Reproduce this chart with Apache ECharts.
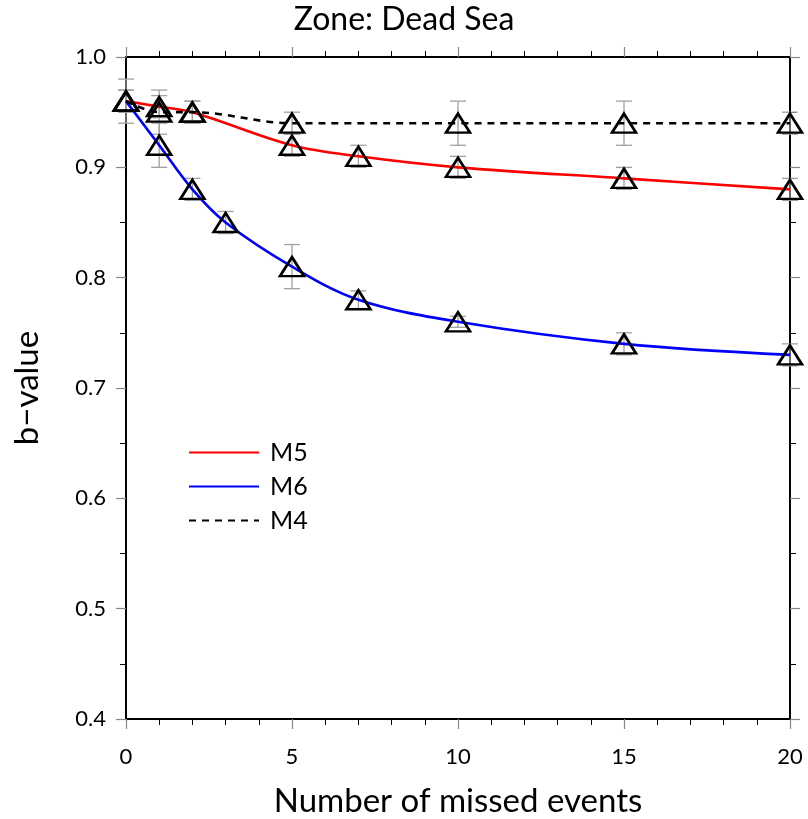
<!DOCTYPE html>
<html><head><meta charset="utf-8">
<script src="https://cdn.jsdelivr.net/npm/echarts@6/dist/echarts.min.js"></script>
<style>html,body{margin:0;padding:0;background:#fff}#c{width:808px;height:819px}</style>
</head><body><div id="c"></div>
<script>
// ---- data ----
const xM5 = [0, 1, 2, 5, 7, 10, 15, 20];
const yM5 = [0.96, 0.955, 0.95, 0.92, 0.91, 0.90, 0.89, 0.88];
const eM5 = [0.01, 0.01, 0.01, 0.01, 0.01, 0.01, 0.01, 0.01];
const xM6 = [0, 1, 2, 3, 5, 7, 10, 15, 20];
const yM6 = [0.96, 0.92, 0.88, 0.85, 0.81, 0.78, 0.76, 0.74, 0.73];
const eM6 = [0.01, 0.02, 0.01, 0.01, 0.02, 0.008, 0.005, 0.01, 0.01];
const xM4 = [0, 1, 2, 5, 10, 15, 20];
const yM4 = [0.96, 0.95, 0.95, 0.94, 0.94, 0.94, 0.94];
const eM4 = [0.02, 0.02, 0.01, 0.01, 0.02, 0.02, 0.01];
const titleText = 'Zone: Dead Sea';
const xName = 'Number of missed events';
const yName = 'b\u2212value';

const FONT = 'Lato';
const chart = echarts.init(document.getElementById('c'), null, {renderer: 'canvas'});

function pairs(xs, ys) { return xs.map((x, i) => [x, ys[i]]); }
function errData(xs, ys, es) { return xs.map((x, i) => [x, ys[i] - es[i], ys[i] + es[i]]); }

function errSeries(xs, ys, es) {
  return {
    type: 'custom', silent: true, z: 1,
    data: errData(xs, ys, es),
    renderItem: function (params, api) {
      const lo = api.coord([api.value(0), api.value(1)]);
      const hi = api.coord([api.value(0), api.value(2)]);
      const w = 8;
      const st = {stroke: '#a0a0a0', lineWidth: 1.3, fill: null};
      return {type: 'group', children: [
        {type: 'line', shape: {x1: lo[0], y1: lo[1], x2: hi[0], y2: hi[1]}, style: st},
        {type: 'line', shape: {x1: lo[0]-w, y1: lo[1], x2: lo[0]+w, y2: lo[1]}, style: st},
        {type: 'line', shape: {x1: hi[0]-w, y1: hi[1], x2: hi[0]+w, y2: hi[1]}, style: st}
      ]};
    },
    encode: {x: 0, y: [1, 2]}
  };
}
function markSeries(xs, ys) {
  return {
    type: 'scatter', z: 5, silent: true,
    data: pairs(xs, ys),
    symbol: 'triangle', symbolSize: [24, 19],
    itemStyle: {color: 'rgba(255,255,255,0)', borderColor: '#000', borderWidth: 2.6, opacity: 1}
  };
}

const axisCommon = {
  type: 'value',
  axisLine: {show: true, onZero: false, lineStyle: {color: '#000', width: 2}},
  axisTick: {show: true, inside: false, length: 10, lineStyle: {color: '#888', width: 1.2}},
  splitLine: {show: false}
};
const minor = n => ({show: true, splitNumber: n, length: 6, lineStyle: {color: '#000', width: 1}});

const option = {
  animation: false,
  backgroundColor: '#fff',
  title: {text: titleText, left: 'center', top: -1,
    textStyle: {fontFamily: FONT, fontSize: 32, fontWeight: 'normal', color: '#000'}},
  grid: {left: 126, right: 18, top: 57, bottom: 100, containLabel: false, outerBoundsMode: 'none'},
  legend: {
    left: 183, top: 435, orient: 'vertical', itemGap: 9,
    itemWidth: 70, itemHeight: 24, data: ['M5', 'M6', 'M4'],
    itemStyle: {opacity: 0},
    textStyle: {fontFamily: FONT, fontSize: 25, color: '#000', padding: [0, 0, 0, 6]}
  },
  xAxis: [
    Object.assign({}, axisCommon, {
      min: 0, max: 20, interval: 5, position: 'bottom',
      minorTick: minor(5),
      axisLabel: {fontFamily: FONT, fontSize: 22, color: '#000', margin: 27},
      name: xName, nameLocation: 'middle', nameGap: 66,
      nameTextStyle: {fontFamily: FONT, fontSize: 33, color: '#000'}
    }),
    Object.assign({}, axisCommon, {
      min: 0, max: 20, interval: 5, position: 'top',
      minorTick: minor(5),
      axisLabel: {show: false}
    })
  ],
  yAxis: [
    Object.assign({}, axisCommon, {
      min: 0.4, max: 1.0, interval: 0.1, position: 'left',
      minorTick: minor(2),
      axisLabel: {fontFamily: FONT, fontSize: 22, color: '#000', margin: 20,
        formatter: v => v.toFixed(1)},
      name: yName, nameLocation: 'middle', nameGap: 82, nameRotate: 90,
      nameTextStyle: {fontFamily: FONT, fontSize: 33, color: '#000'}
    }),
    Object.assign({}, axisCommon, {
      min: 0.4, max: 1.0, interval: 0.1, position: 'right',
      minorTick: minor(2),
      axisLabel: {show: false}
    })
  ],
  series: [
    errSeries(xM4, yM4, eM4),
    errSeries(xM5, yM5, eM5),
    errSeries(xM6, yM6, eM6),
    {name: 'M5', type: 'line', data: pairs(xM5, yM5), smooth: 0.35, symbol: 'none', z: 3,
      lineStyle: {color: '#ff0000', width: 2.6}, itemStyle: {color: '#ff0000'}},
    {name: 'M6', type: 'line', data: pairs(xM6, yM6), smooth: 0.35, symbol: 'none', z: 3,
      lineStyle: {color: '#0000ff', width: 2.6}, itemStyle: {color: '#0000ff'}},
    {name: 'M4', type: 'line', data: pairs(xM4, yM4), smooth: 0.35, symbol: 'none', z: 3,
      lineStyle: {color: '#000', width: 2.6, type: [7, 6]}, itemStyle: {color: '#000'}},
    markSeries(xM5, yM5),
    markSeries(xM6, yM6),
    markSeries(xM4, yM4)
  ]
};
chart.setOption(option);
</script>
</body></html>
